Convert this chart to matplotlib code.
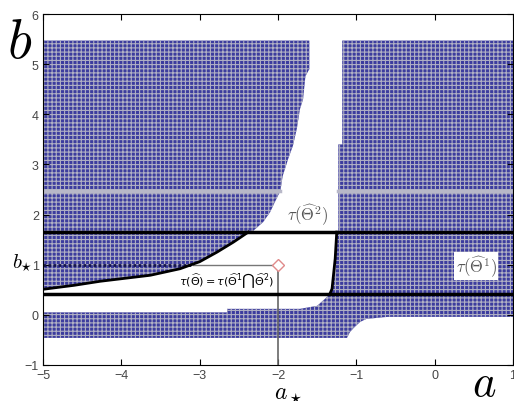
import matplotlib
matplotlib.use('Agg')
import matplotlib.pyplot as plt

# upper-left blue region (boundary)
left_a = [-5, -1.60, -1.60, -1.65, -1.68, -1.72, -1.76, -1.81, -1.87, -1.94, -1.97,
          -2.04, -2.10, -2.19, -2.32, -2.38, -2.57, -2.78, -3.0, -3.25, -3.63, -4.27, -4.6, -5]
left_b = [5.47, 5.47, 4.90, 4.76, 4.30, 4.10, 3.71, 3.37, 3.11, 2.77, 2.47,
          2.25, 2.05, 1.85, 1.67, 1.65, 1.45, 1.25, 1.06, 0.92, 0.79, 0.67, 0.59, 0.51]

# right + lower blue region
right_a = [-1.18, 1, 1, -0.6, -0.87, -0.95, -1.02, -1.08, -1.12, -5, -5, -2.65, -2.65,
           -1.72, -1.50, -1.40, -1.34, -1.31, -1.27, -1.25, -1.23, -1.23, -1.18]
right_b = [5.47, 5.47, -0.04, -0.04, -0.08, -0.14, -0.24, -0.34, -0.46, -0.46, 0.05, 0.05, 0.12,
           0.12, 0.18, 0.32, 0.41, 0.52, 1.12, 1.65, 1.65, 3.4, 3.4]

# black boundary curves
curve_l_a = [-5, -4.6, -4.27, -3.63, -3.25, -3.0, -2.78, -2.57, -2.38]
curve_l_b = [0.51, 0.59, 0.67, 0.79, 0.92, 1.06, 1.25, 1.45, 1.65]
curve_r_a = [-1.25, -1.27, -1.31, -1.34]
curve_r_b = [1.65, 1.12, 0.52, 0.41]

b_upper = 1.65
b_lower = 0.41
a_star = -2.0
b_star = 1.0
a_cross = -3.08  # where b_star meets left curve
grey_row = 2.47

fig = plt.figure(figsize=(5.14, 4.02), dpi=100)
ax = fig.add_axes([43/514, 36/402, 470/514, 351/402])

plt.rcParams['hatch.linewidth'] = 0.8
blue = '#3c3c9e'
hatch_col = '#b0b0c4'
ax.fill(left_a, left_b, facecolor=blue, edgecolor=hatch_col, hatch='++++', linewidth=0, zorder=1)
ax.fill(right_a, right_b, facecolor=blue, edgecolor=hatch_col, hatch='++++', linewidth=0, zorder=1)

# lighter row in the pattern
ax.plot([-5, -1.97], [grey_row, grey_row], color='#b8b8c8', lw=2.5, zorder=2)
ax.plot([-1.23, 1], [grey_row, grey_row], color='#b8b8c8', lw=2.5, zorder=2)

# darker dotted row at b_star
ax.plot([-5, a_cross], [b_star, b_star], color='#15154a', lw=2, ls=(0, (1, 0.8)), zorder=2)

ax.plot([-5, 1], [b_upper, b_upper], color='black', lw=2.5, zorder=4)
ax.plot([-5, 1], [b_lower, b_lower], color='black', lw=2.5, zorder=4)
ax.plot(curve_l_a, curve_l_b, color='black', lw=2, zorder=4)
ax.plot(curve_r_a, curve_r_b, color='black', lw=2, zorder=4)

ax.plot([a_cross, a_star], [b_star, b_star], color='#777777', lw=1, zorder=3)
ax.plot([a_star, a_star], [-1, b_star], color='#666666', lw=1.2, zorder=3)
ax.plot([a_star], [b_star], marker='D', ms=6, mfc='white', mec='#e08a8a', mew=1, zorder=5)

ax.text(-2.04, 0.70, r'$\tau(\widehat{\Theta})=\tau(\widehat{\Theta}^1\bigcap\widehat{\Theta}^2)$',
        fontsize=8, ha='right', va='center', math_fontfamily='dejavusans', zorder=6)
ax.text(-1.62, 2.0, r'$\tau(\widehat{\Theta}^2)$', fontsize=12, ha='center', va='center',
        color='#555555', math_fontfamily='cm', zorder=6)
ax.text(0.53, 0.97, r'$\tau(\widehat{\Theta}^1)$', fontsize=12, ha='center', va='center',
        color='#555555', math_fontfamily='cm', zorder=6,
        bbox=dict(facecolor='white', edgecolor='none', pad=1))

ax.set_xlim(-5, 1)
ax.set_ylim(-1, 6)
ax.set_xticks(range(-5, 2))
ax.set_yticks(range(-1, 7))
ax.tick_params(direction='in', length=4, top=True, right=True, labelsize=9,
               labelcolor='#444444', pad=3)
for lab in ax.get_xticklabels() + ax.get_yticklabels():
    lab.set_family('Liberation Sans')

fig.text(7/514, 1 - 58/402, r'$b$', fontsize=40, math_fontfamily='cm', ha='left', va='baseline')
fig.text(472/514, 1 - 396/402, r'$a$', fontsize=32, math_fontfamily='cm', ha='left', va='baseline')
fig.text(33/514, 1 - 268/402, r'$b_{\star}$', fontsize=15, math_fontfamily='cm', ha='right', va='baseline')
fig.text(274/514, 1 - 399/402, r'$a_\star$', fontsize=17, math_fontfamily='cm', ha='left', va='baseline')

fig.savefig('out.png', dpi=100)
